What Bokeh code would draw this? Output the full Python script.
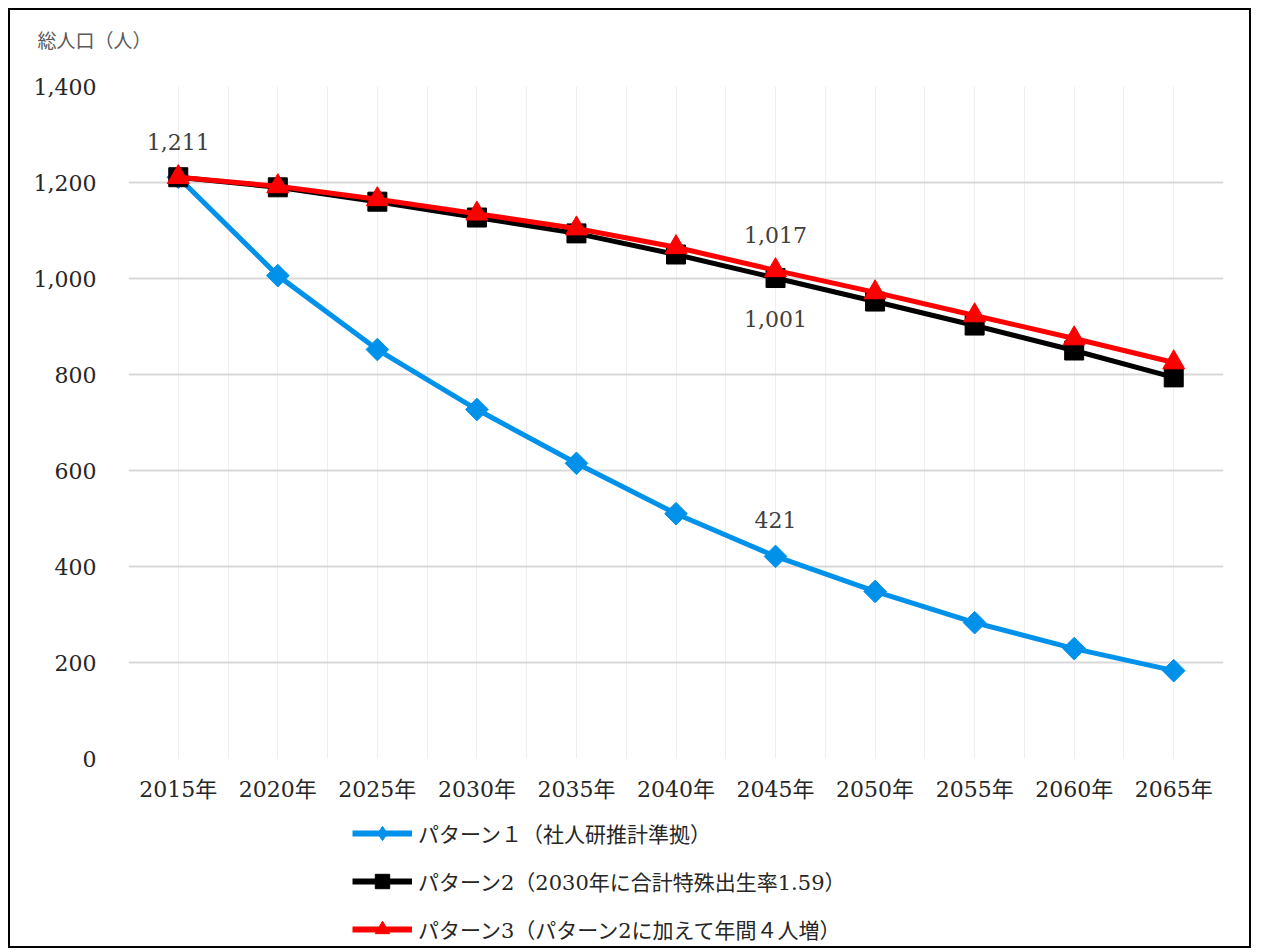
import math
from bokeh.plotting import figure
from bokeh.layouts import column, row
from bokeh.models import FixedTicker, Label, Legend, LegendItem, NumeralTickFormatter, Spacer
from bokeh.embed import file_html
from bokeh.resources import INLINE

years = ["2015年", "2020年", "2025年", "2030年", "2035年", "2040年",
         "2045年", "2050年", "2055年", "2060年", "2065年"]
pattern1 = [1211, 1006, 852, 727, 615, 510, 421, 348, 283, 229, 183]
pattern2 = [1211, 1190, 1160, 1127, 1094, 1050, 1001, 952, 902, 850, 794]
pattern3 = [1211, 1192, 1165, 1135, 1104, 1065, 1017, 971, 923, 875, 825]
names = ["パターン１（社人研推計準拠）",
         "パターン2（2030年に合計特殊出生率1.59）",
         "パターン3（パターン2に加えて年間４人増）"]
y_ticks = [0, 200, 400, 600, 800, 1000, 1200, 1400]
title_text = "総人口（人）"

FONT = "DejaVu Serif, Noto Sans CJK JP"
BLUE, BLACK, RED = "#0091EA", "black", "#FF0000"
W = 1243
NAN = float("nan")
xs = list(range(len(years)))

# --- title strip (frame aligned with the chart below) ------------------
top = figure(width=W, height=60, output_backend="svg", toolbar_location=None,
             x_range=(0, 1), y_range=(0, 1), min_border=0,
             x_axis_location=None, y_axis_location=None, title=title_text)
top.grid.visible = False
top.outline_line_color = None
top.styles = {"border-left": "2px solid black", "border-right": "2px solid black",
              "border-top": "2px solid black"}
top.title.align = "left"
top.title.offset = -91
top.title.standoff = 34
top.title.text_font = FONT
top.title.text_font_size = "19px"
top.title.text_font_style = "normal"
top.title.text_color = "#595959"

# --- main chart --------------------------------------------------------
p = figure(width=W, height=740, output_backend="svg", toolbar_location=None,
           x_range=(-0.5, 10.5), y_range=(0, 1400),
           min_border_left=118, min_border_right=30, min_border_top=18, min_border_bottom=50)
p.styles = {"border-left": "2px solid black", "border-right": "2px solid black"}
p.outline_line_color = None

p.yaxis.ticker = FixedTicker(ticks=y_ticks)
p.yaxis.formatter = NumeralTickFormatter(format="0,0")
p.xaxis.ticker = FixedTicker(ticks=xs)
p.xaxis.major_label_overrides = {i: y for i, y in enumerate(years)}
for ax in (p.xaxis, p.yaxis):
    ax.axis_line_color = None
    ax.major_tick_line_color = None
    ax.minor_tick_line_color = None
    ax.major_label_text_font = FONT
    ax.major_label_text_font_size = "22px"
    ax.major_label_text_color = "#262626"
p.yaxis.major_label_standoff = 26
p.xaxis.major_label_standoff = 12

p.ygrid.ticker = FixedTicker(ticks=y_ticks)
p.ygrid.grid_line_color = "#d9d9d9"
p.ygrid.grid_line_width = 2
p.xgrid.ticker = FixedTicker(ticks=[i * 0.5 - 0.5 for i in range(23)])
p.xgrid.grid_line_color = "#eeeeee"
p.xgrid.grid_line_width = 1

p.line(xs, pattern1, line_color=BLUE, line_width=5)
p.scatter(xs, pattern1, marker="square", angle=math.pi / 4, size=16,
          fill_color=BLUE, line_color=BLUE)
p.line(xs, pattern2, line_color=BLACK, line_width=5)
p.scatter(xs, pattern2, marker="square", size=19, fill_color=BLACK, line_color=BLACK)
p.line(xs, pattern3, line_color=RED, line_width=5)
p.scatter(xs, pattern3, marker="triangle", size=22, fill_color=RED, line_color=RED)

def add_label(i, series, dy):
    v = series[i]
    p.add_layout(Label(x=i, y=v, text=f"{v:,}", text_align="center",
                       text_baseline="middle", y_offset=dy,
                       text_font=FONT, text_font_size="22px", text_color="#404040"))

add_label(0, pattern2, 35)
add_label(6, pattern3, 35)
add_label(6, pattern2, -41)
add_label(6, pattern1, 36)

# --- legend strip (frame aligned with the chart above) -----------------
lf = figure(width=W, height=140, output_backend="svg", toolbar_location=None,
            x_range=(0, 1), y_range=(0, 1), min_border=0,
            x_axis_location=None, y_axis_location=None)
lf.grid.visible = False
lf.outline_line_color = None
lf.styles = {"border-left": "2px solid black", "border-right": "2px solid black",
             "border-bottom": "2px solid black"}
r1 = [lf.line([NAN], [NAN], line_color=BLUE, line_width=6),
      lf.scatter([NAN], [NAN], marker="diamond", fill_color=BLUE, line_color=BLUE)]
r2 = [lf.line([NAN], [NAN], line_color=BLACK, line_width=6),
      lf.scatter([NAN], [NAN], marker="square", fill_color=BLACK, line_color=BLACK)]
r3 = [lf.line([NAN], [NAN], line_color=RED, line_width=6),
      lf.scatter([NAN], [NAN], marker="triangle", fill_color=RED, line_color=RED)]
legend = Legend(items=[LegendItem(label=names[0], renderers=r1),
                       LegendItem(label=names[1], renderers=r2),
                       LegendItem(label=names[2], renderers=r3)],
                location=(224, 1), orientation="vertical",
                glyph_width=60, glyph_height=36, label_height=36,
                label_standoff=6, spacing=12, padding=0, margin=0,
                border_line_color=None, background_fill_alpha=0,
                label_text_font=FONT, label_text_font_size="21px",
                label_text_color="#262626")
lf.add_layout(legend, "center")

layout = column(Spacer(height=8), row(Spacer(width=8), column(top, p, lf)))
open("out.html", "w").write(file_html(layout, INLINE))
